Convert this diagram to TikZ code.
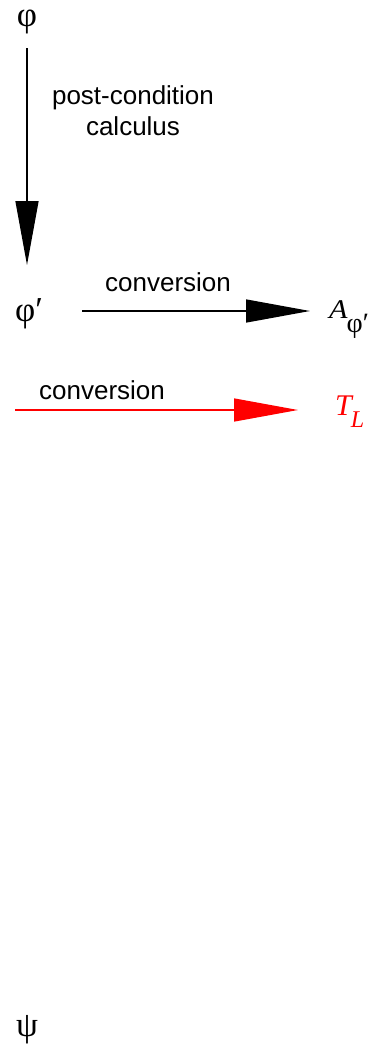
\documentclass[tikz,border=0pt]{standalone}
\usepackage{fontspec}
\setmainfont{Liberation Serif}
\newfontfamily\lblfont{Liberation Sans}
\usetikzlibrary{arrows.meta,calc}

\begin{document}
\begin{tikzpicture}[x=1pt,y=-1pt,
  lbl/.style={font=\lblfont\fontsize{26}{31}\selectfont, align=center, inner sep=0pt},
  sym/.style={font=\fontsize{35}{38}\selectfont, inner sep=0pt},
  conn/.style={line width=1.4pt, -{Triangle[length=64pt,width=23pt]}},
]
\useasboundingbox (0,0) rectangle (381,1044);

% formulas
\node[sym, anchor=base] (phi) at (27,27) {φ};
\node[sym, anchor=base west] (phip) at (15,321) {φ′};
\node[anchor=base west, inner sep=0pt] (A) at (329,318)
  {\scalebox{1.12}[1]{\fontsize{27}{30}\selectfont\itshape A}\kern-1pt\raisebox{-14pt}{\fontsize{28}{30}\selectfont φ′}};
\node[anchor=base west, inner sep=0pt, text=red] (TL) at (335,415)
  {\fontsize{30}{32}\selectfont\itshape T\kern-1pt\raisebox{-12pt}{\fontsize{24}{26}\selectfont\itshape L}};
\node[sym, anchor=base] (psi) at (27,1036) {ψ};
\coordinate (start) at (15,410);

% arrows
\draw[conn] ($(phi.base)+(0,21)$) -- ($(phip.base west)+(12,-56)$);
\node[lbl] (calc) at (133,111) {post-condition\\calculus};

\draw[conn] ($(phip.base west)+(67,-10)$) -- ($(A.base west)+(-19,-7)$);
\node[lbl] (conv1) at (168,282) {conversion};

\draw[conn, red] (start) -- ($(TL.base west)+(-37,-5)$);
\node[lbl] (conv2) at (102,390) {conversion};
\end{tikzpicture}
\end{document}
